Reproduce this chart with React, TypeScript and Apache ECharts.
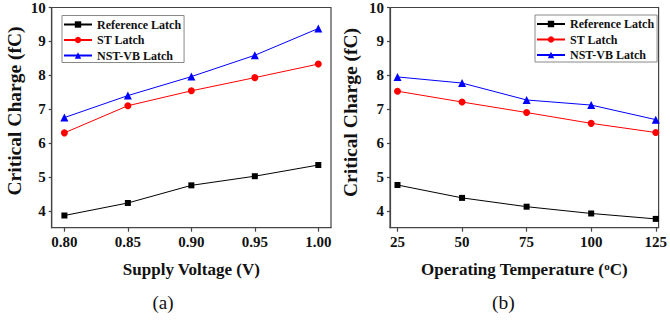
import React, { useEffect, useRef } from "react";
import * as echarts from "echarts";

const voltages = [0.8, 0.85, 0.9, 0.95, 1.0];
const refByVoltage = [3.86, 4.23, 4.75, 5.02, 5.35];
const stByVoltage = [6.3, 7.1, 7.54, 7.93, 8.33];
const nstByVoltage = [6.75, 7.4, 7.96, 8.59, 9.38];

const temperatures = [25, 50, 75, 100, 125];
const refByTemp = [4.76, 4.38, 4.12, 3.92, 3.76];
const stByTemp = [7.53, 7.21, 6.9, 6.58, 6.31];
const nstByTemp = [7.95, 7.77, 7.27, 7.12, 6.69];

const yTickValues = [4, 5, 6, 7, 8, 9, 10];
const seriesNames = ["Reference Latch", "ST Latch", "NST-VB Latch"];

const FONT = "Liberation Serif";
const AXIS_COLOR = "#444";

function pairs(xs: number[], ys: number[]) {
  return xs.map((x, i) => [x, ys[i]]);
}

export default function App() {
  const ref = useRef<HTMLDivElement>(null);

  useEffect(() => {
    document.body.style.margin = "0";
    if (!ref.current) return;
    const chart = echarts.init(ref.current, undefined, { renderer: "svg" });

    const axisLine = { show: true, lineStyle: { color: AXIS_COLOR, width: 1.2 } };
    const labelStyle = {
      fontFamily: FONT,
      fontWeight: "bold" as const,
      fontSize: 15,
      color: "#111",
    };
    const tickStyle = { color: AXIS_COLOR, width: 1.2 };
    const nameStyle = {
      fontFamily: FONT,
      fontWeight: "bold" as const,
      fontSize: 17,
      color: "#111",
      lineHeight: 17,
    };

    const yAxisBase = (gridIndex: number) => ({
      type: "value" as const,
      gridIndex,
      min: 3.5,
      max: 10,
      axisLine,
      splitLine: { show: false },
      axisTick: { show: true, length: 3, customValues: yTickValues, lineStyle: tickStyle },
      axisLabel: {
        fontFamily: FONT,
        fontWeight: "bold",
        fontSize: 15,
        color: "#111",
        margin: 6,
        customValues: yTickValues,
      },
    });

    const mkSeries = (
      name: string,
      data: number[][],
      color: string,
      symbol: string,
      symbolSize: number,
      idx: number
    ) => ({
      name,
      type: "line" as const,
      xAxisIndex: idx,
      yAxisIndex: idx,
      data,
      symbol,
      symbolSize,
      showAllSymbol: true,
      lineStyle: { color, width: 1 },
      itemStyle: { color },
    });

    const legendBase = {
      orient: "vertical" as const,
      itemWidth: 28,
      itemHeight: 8,
      itemGap: 3.5,
      padding: [3, 3, 1, 1],
      borderColor: "#888",
      borderWidth: 1,
      data: seriesNames,
      textStyle: {
        fontFamily: FONT,
        fontWeight: "bold" as const,
        fontSize: 12,
        color: "#111",
      },
    };

    chart.setOption({
      animation: false,
      backgroundColor: "#fff",
      textStyle: { fontFamily: FONT },
      grid: [
        {
          left: 51.7,
          top: 6.5,
          width: 279.3,
          height: 221.2,
          show: true,
          borderColor: AXIS_COLOR,
          borderWidth: 1.2,
          backgroundColor: "transparent",
        },
        {
          left: 390,
          top: 5,
          width: 274,
          height: 222.7,
          show: true,
          borderColor: AXIS_COLOR,
          borderWidth: 1.2,
          backgroundColor: "transparent",
        },
      ],
      xAxis: [
        {
          type: "value",
          gridIndex: 0,
          min: 0.79,
          max: 1.01,
          axisLine,
          splitLine: { show: false },
          name: "Supply Voltage (V)",
          nameLocation: "middle",
          nameGap: 33,
          nameTextStyle: nameStyle,
          axisTick: { show: true, length: 4, customValues: voltages, lineStyle: tickStyle },
          axisLabel: {
            ...labelStyle,
            margin: 7,
            customValues: voltages,
            formatter: (v: number) => v.toFixed(2),
          },
        },
        {
          type: "value",
          gridIndex: 1,
          min: 22.1,
          max: 126.1,
          axisLine,
          splitLine: { show: false },
          name: "Operating Temperature ({sup|o}C)",
          nameLocation: "middle",
          nameGap: 33,
          nameTextStyle: {
            ...nameStyle,
            rich: {
              sup: {
                fontFamily: FONT,
                fontWeight: "bold",
                fontSize: 11,
                color: "#111",
                verticalAlign: "top",
                lineHeight: 11,
                padding: [0, 0, 0, 0],
              },
            },
          },
          axisTick: { show: true, length: 4, customValues: temperatures, lineStyle: tickStyle },
          axisLabel: {
            ...labelStyle,
            margin: 7,
            customValues: temperatures,
            formatter: (v: number) => String(v),
          },
        },
      ],
      yAxis: [yAxisBase(0), yAxisBase(1)],
      legend: [
        { ...legendBase, left: 62, top: 15.5 },
        { ...legendBase, left: 535, top: 15 },
      ],
      series: [
        mkSeries(seriesNames[0], pairs(voltages, refByVoltage), "#000000", "rect", 6, 0),
        mkSeries(seriesNames[1], pairs(voltages, stByVoltage), "#ff0000", "circle", 7, 0),
        mkSeries(seriesNames[2], pairs(voltages, nstByVoltage), "#0000ff", "triangle", 8, 0),
        mkSeries(seriesNames[0], pairs(temperatures, refByTemp), "#000000", "rect", 6, 1),
        mkSeries(seriesNames[1], pairs(temperatures, stByTemp), "#ff0000", "circle", 7, 1),
        mkSeries(seriesNames[2], pairs(temperatures, nstByTemp), "#0000ff", "triangle", 8, 1),
      ],
      graphic: [
        {
          type: "text",
          x: 14.5,
          y: 111,
          rotation: Math.PI / 2,
          style: {
            text: "Critical Charge (fC)",
            fontFamily: FONT,
            fontWeight: "bold",
            fontSize: 19.5,
            fill: "#111",
            align: "center",
            verticalAlign: "middle",
          },
        },
        {
          type: "text",
          x: 350.8,
          y: 112.5,
          rotation: Math.PI / 2,
          style: {
            text: "Critical Charge (fC)",
            fontFamily: FONT,
            fontWeight: "bold",
            fontSize: 19.5,
            fill: "#111",
            align: "center",
            verticalAlign: "middle",
          },
        },
        {
          type: "text",
          x: 163,
          y: 302,
          style: {
            text: "(a)",
            fontFamily: FONT,
            fontSize: 19,
            fill: "#111",
            align: "center",
            verticalAlign: "middle",
          },
        },
        {
          type: "text",
          x: 503.3,
          y: 302,
          style: {
            text: "(b)",
            fontFamily: FONT,
            fontSize: 19.5,
            fill: "#111",
            align: "center",
            verticalAlign: "middle",
          },
        },
      ],
    });

    return () => chart.dispose();
  }, []);

  return <div ref={ref} style={{ width: 670, height: 322 }} />;
}
